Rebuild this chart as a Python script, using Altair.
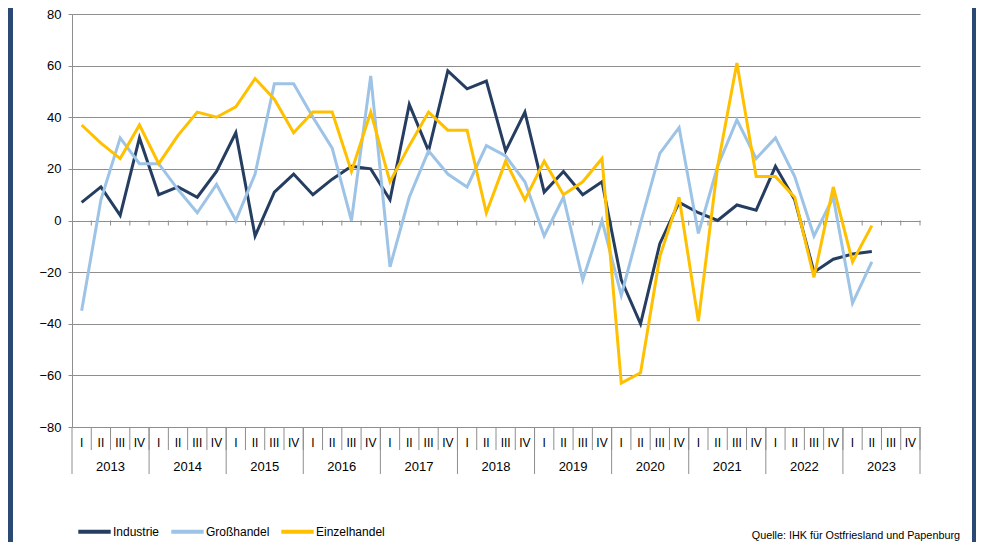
import altair as alt
import pandas as pd

# ---------------- data ----------------
quarter_labels = ["I", "II", "III", "IV"]
years = [2013, 2014, 2015, 2016, 2017, 2018, 2019, 2020, 2021, 2022, 2023]
series_names = ["Industrie", "Großhandel", "Einzelhandel"]
series_colors = ["#253D60", "#9DC3E6", "#FFC000"]

industrie = [7, 13, 2, 32, 10, 13, 9, 19, 34, -6, 11, 18, 10, 16, 21, 20,
             8, 45, 27, 58, 51, 54, 27, 42, 11, 19, 10, 15, -23, -40, -9, 7,
             3, 0, 6, 4, 21, 8, -20, -15, -13, -12]
grosshandel = [-35, 8, 32, 22, 22, 12, 3, 14, 0, 18, 53, 53, 40, 28, 0, 56,
               -18, 9, 27, 18, 13, 29, 25, 15, -6, 9, -23, 0, -29, -1, 26, 36,
               -5, 21, 39, 24, 32, 17, -6, 9, -32, -16]
einzelhandel = [37, 30, 24, 37, 22, 33, 42, 40, 44, 55, 47, 34, 42, 42, 19, 42,
                15, 29, 42, 35, 35, 3, 23, 8, 23, 10, 15, 24, -63, -59, -14, 9,
                -39, 21, 61, 17, 17, 9, -22, 13, -16, -2]
y_ticks = [-80, -60, -40, -20, 0, 20, 40, 60, 80]
source_text = "Quelle: IHK für Ostfriesland und Papenburg"

# ---------------- tables ----------------
rows = []
for name, vals in zip(series_names, [industrie, grosshandel, einzelhandel]):
    for i, v in enumerate(vals):
        rows.append({"serie": name, "pos": i + 0.5, "wert": v, "idx": i})
df = pd.DataFrame(rows)

n_q = len(years) * len(quarter_labels)
q_df = pd.DataFrame({"pos": [i + 0.5 for i in range(n_q)],
                     "label": [quarter_labels[i % 4] for i in range(n_q)]})
y_df = pd.DataFrame({"pos": [k * 4 + 2 for k in range(len(years))],
                     "label": [str(y) for y in years]})
qb_df = pd.DataFrame({"b": list(range(1, n_q + 1))})
yb_df = pd.DataFrame({"b": [k * 4 for k in range(len(years) + 1)]})
src_df = pd.DataFrame({"t": [source_text]})
one = pd.DataFrame({"a": [0]})

# ---------------- layout ----------------
W, H = 848, 413
PAD_L, PAD_T = 64, 6
TOTAL_W, TOTAL_H = 968, 534
PAD_R = TOTAL_W - PAD_L - W
PAD_B = TOTAL_H - PAD_T - H
FONT = "Liberation Sans"
GRID = "#8E8E8E"
BORDER = "#2A4A75"

xscale = alt.Scale(domain=[0, n_q], nice=False, zero=False)
yscale = alt.Scale(domain=[-80, 80], nice=False, zero=False)
yaxis = alt.Axis(values=y_ticks, grid=True, gridColor=GRID, gridWidth=1,
                 domainColor=GRID, tickColor=GRID, tickSize=4, labelPadding=7,
                 labelFont=FONT, labelFontSize=13, labelColor="#000000",
                 title=None, format="d")

color = alt.Color("serie:N",
                  scale=alt.Scale(domain=series_names, range=series_colors),
                  legend=alt.Legend(orient="none", legendX=4, legendY=499,
                                    direction="horizontal", title=None,
                                    symbolType="stroke", symbolSize=1050,
                                    symbolStrokeWidth=4, labelFont=FONT,
                                    labelFontSize=12, labelColor="#000000",
                                    labelOffset=0, columnPadding=3,
                                    padding=0))

lines = []
for name in series_names:
    lines.append(
        alt.Chart(df).transform_filter(alt.datum.serie == name)
        .mark_line(strokeWidth=3, strokeJoin="miter")
        .encode(x=alt.X("pos:Q", scale=xscale, axis=None),
                y=alt.Y("wert:Q", scale=yscale, axis=yaxis),
                color=color, order="idx:Q")
    )

zero_ticks = alt.Chart(qb_df).mark_rule(color=GRID, strokeWidth=1, y2Offset=5).encode(
    x=alt.X("b:Q", scale=xscale, axis=None),
    y=alt.Y(datum=0, scale=yscale, axis=yaxis),
    y2=alt.datum(0),
)

q_sep = alt.Chart(qb_df).mark_rule(color=GRID, strokeWidth=1).encode(
    x=alt.X("b:Q", scale=xscale, axis=None),
    y=alt.value(H), y2=alt.value(H + 23),
)
y_sep = alt.Chart(yb_df).mark_rule(color=GRID, strokeWidth=1).encode(
    x=alt.X("b:Q", scale=xscale, axis=None),
    y=alt.value(H), y2=alt.value(H + 47),
)
q_text = alt.Chart(q_df).mark_text(font=FONT, fontSize=12, color="#000000",
                                   baseline="middle").encode(
    x=alt.X("pos:Q", scale=xscale, axis=None),
    y=alt.value(H + 16), text="label:N",
)
y_text = alt.Chart(y_df).mark_text(font=FONT, fontSize=13, color="#000000",
                                   baseline="middle").encode(
    x=alt.X("pos:Q", scale=xscale, axis=None),
    y=alt.value(H + 40), text="label:N",
)
src = alt.Chart(src_df).mark_text(font=FONT, fontSize=10.8, color="#000000",
                                  align="right", baseline="middle").encode(
    x=alt.value(888), y=alt.value(522), text="t:N",
)

left_band = alt.Chart(one).mark_rect(color=BORDER).encode(
    x=alt.value(-PAD_L), x2=alt.value(-59), y=alt.value(-PAD_T), y2=alt.value(TOTAL_H))
right_band = alt.Chart(one).mark_rect(color=BORDER).encode(
    x=alt.value(900), x2=alt.value(TOTAL_W), y=alt.value(-PAD_T), y2=alt.value(TOTAL_H))

chart = alt.layer(
    zero_ticks, q_sep, y_sep, q_text, y_text, *lines, src,
    left_band, right_band,
).properties(
    width=W, height=H,
    autosize=alt.AutoSizeParams(type="none"),
    padding={"left": PAD_L, "top": PAD_T, "right": PAD_R, "bottom": PAD_B},
    background="#FFFFFF",
).configure_view(stroke=None)

chart.save("out.html", embed_options={"renderer": "svg", "actions": False})
